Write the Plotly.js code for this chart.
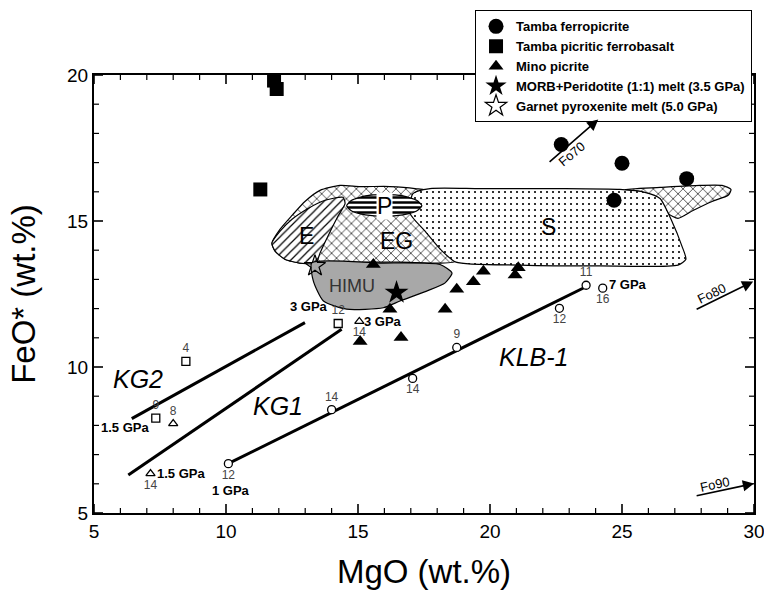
<!DOCTYPE html>
<html><head><meta charset="utf-8">
<script src="https://cdn.plot.ly/plotly-3.0.1.min.js"></script>
<style>html,body{margin:0;padding:0;background:#fff}#chart{width:764px;height:590px}</style>
</head><body><div id="chart"></div>
<script>
// ---- sample data ----
const ferropicriteMgO = [22.7, 25.0, 27.45, 24.7];
const ferropicriteFeO = [17.62, 16.98, 16.45, 15.71];
const ferrobasaltMgO = [11.82, 11.92, 11.3];
const ferrobasaltFeO = [19.81, 19.52, 16.08];
const minoMgO = [15.58, 19.75, 21.07, 20.95, 19.37, 18.74, 18.3, 16.21, 16.63, 15.08];
const minoFeO = [13.51, 13.28, 13.4, 13.15, 12.92, 12.66, 11.98, 11.98, 11.01, 10.87];
const morbMgO = [16.46];
const morbFeO = [12.55];
const gpxMgO = [13.37];
const gpxFeO = [13.46];

// experimental trends
const klbLineMgO = [10.1, 23.75];
const klbLineFeO = [6.7, 12.8];
const kg1LineMgO = [6.3, 14.38];
const kg1LineFeO = [6.3, 11.29];
const kg2LineMgO = [6.43, 12.99];
const kg2LineFeO = [8.23, 11.52];

const klbRunMgO = [10.09, 14.0, 17.07, 18.74, 22.63, 23.64, 24.27];
const klbRunFeO = [6.69, 8.54, 9.61, 10.67, 12.01, 12.8, 12.7];
const klbRunLabel = ['12', '14', '14', '9', '12', '11', '16'];
const klbRunPos = ['bottom center', 'top center', 'bottom center', 'top center', 'bottom center', 'top center', 'bottom center'];

const kgSqMgO = [14.25, 8.48, 7.34];
const kgSqFeO = [11.49, 10.19, 8.25];
const kgSqLabel = ['12', '4', '9'];
const kgSqPos = ['top center', 'top center', 'top center'];

const kgTriMgO = [15.05, 8.0, 7.14];
const kgTriFeO = [11.56, 8.06, 6.35];
const kgTriLabel = ['14', '8', '14'];
const kgTriPos = ['bottom center', 'top center', 'bottom center'];

// pressure labels
const gpaText = ['3 GPa', '1.5 GPa', '1.5 GPa', '1 GPa', '3 GPa', '7 GPa'];
const gpaMgO = [13.13, 6.17, 8.3, 10.2, 15.95, 25.23];
const gpaFeO = [12.06, 7.94, 6.35, 5.78, 11.56, 12.81];

// trend names
const trendText = ['KG2', 'KG1', 'KLB-1'];
const trendMgO = [6.68, 11.98, 21.64];
const trendFeO = [9.59, 8.68, 10.33];

// compositional fields (outlines)
const envMgO = [11.74, 12.05, 12.5, 12.99, 13.56, 14.32, 15.08, 16.21, 17.16, 17.73, 18.11, 18.71, 16.59, 13.56, 12.8, 12.23, 11.86];
const envFeO = [14.24, 14.72, 15.19, 15.67, 16.05, 16.22, 16.18, 16.18, 16.11, 16.01, 14.65, 13.63, 13.59, 13.59, 13.56, 13.69, 13.97];
const tongueMgO = [25.11, 26.44, 27.95, 28.79, 29.13, 29.02, 28.41, 27.69, 27.12, 26.74, 26.36, 25.68];
const tongueFeO = [16.08, 16.15, 16.22, 16.22, 16.08, 15.88, 15.67, 15.36, 15.09, 15.26, 15.77, 16.01];
const sMgO = [17.08, 17.73, 19.62, 22.65, 24.92, 25.87, 26.44, 26.89, 27.27, 27.42, 27.12, 24.17, 21.14, 18.71, 18.11, 17.54, 16.97];
const sFeO = [15.94, 16.11, 16.11, 16.11, 16.08, 15.98, 15.77, 14.99, 14.14, 13.69, 13.49, 13.46, 13.49, 13.59, 14.04, 14.65, 15.26];
const eMgO = [11.74, 12.05, 12.5, 13.11, 13.75, 14.43, 14.51, 14.24, 13.86, 13.56, 13.41, 12.8, 12.23, 11.86];
const eFeO = [14.24, 14.65, 15.06, 15.43, 15.71, 15.81, 15.6, 15.16, 14.48, 13.9, 13.56, 13.56, 13.69, 13.97];
const himuMgO = [13.25, 15.83, 18.11, 18.56, 18.3, 17.6, 16.59, 15.96, 14.57, 13.69, 13.31];
const himuFeO = [13.57, 13.56, 13.51, 13.22, 12.88, 12.6, 12.26, 12.03, 11.98, 12.26, 12.94];
const pMgO = [17.42, 17.22, 16.7, 15.99, 15.28, 14.76, 14.57, 14.76, 15.28, 15.99, 16.7, 17.22];
const pFeO = [15.52, 15.71, 15.86, 15.9, 15.86, 15.71, 15.52, 15.34, 15.21, 15.16, 15.21, 15.34];

const fieldText = ['E', 'EG', 'P', 'S', 'HIMU'];
const fieldMgO = [13.06, 16.47, 15.99, 22.21, 14.76];
const fieldFeO = [14.48, 14.31, 15.53, 14.79, 12.77];

// olivine control arrows
const foText = ['Fo70', 'Fo80', 'Fo90'];
const foTailMgO = [22.2, 27.77, 27.77];
const foTailFeO = [16.98, 11.95, 5.58];
const foTipMgO = [24.1, 29.97, 30.0];
const foTipFeO = [18.48, 12.93, 6.01];
const foLabelMgO = [23.12, 28.4, 28.52];
const foLabelFeO = [17.3, 12.51, 5.99];
const foAngle = [-40, -26, -12];

// axis ticks (major every 5, minor every 1)
const xRange = [5, 30];
const yRange = [5, 20];
const xTickValues = [5, 6, 7, 8, 9, 10, 11, 12, 13, 14, 15, 16, 17, 18, 19, 20, 21, 22, 23, 24, 25, 26, 27, 28, 29, 30];
const yTickValues = [5, 6, 7, 8, 9, 10, 11, 12, 13, 14, 15, 16, 17, 18, 19, 20];

// ---- build ----
const FONT = 'Liberation Sans, Arial, Helvetica, sans-serif';
const W = 764, H = 590, M = {l: 94, r: 10, t: 73, b: 77};
const pxPerX = (W - M.l - M.r) / (xRange[1] - xRange[0]);
const pxPerY = (H - M.t - M.b) / (yRange[1] - yRange[0]);

function field(xs, ys, fill) {
  return Object.assign({
    x: xs.concat([xs[0]]), y: ys.concat([ys[0]]), type: 'scatter', mode: 'lines',
    fill: 'toself', line: {color: '#000', width: 1.2, shape: 'spline', smoothing: 0.6},
    hoverinfo: 'skip', showlegend: false
  }, fill);
}
const traces = [
  field(envMgO, envFeO, {fillcolor: 'white', fillpattern: {shape: 'x', size: 7, solidity: 0.18, fgcolor: '#000', bgcolor: 'white'}}),
  field(tongueMgO, tongueFeO, {fillcolor: 'white', fillpattern: {shape: 'x', size: 7, solidity: 0.18, fgcolor: '#000', bgcolor: 'white'}}),
  field(sMgO, sFeO, {fillcolor: 'white', fillpattern: {shape: '.', size: 6, solidity: 0.1, fgcolor: '#000', bgcolor: 'white'}}),
  field(eMgO, eFeO, {fillcolor: 'white', fillpattern: {shape: '/', size: 6, solidity: 0.2, fgcolor: '#000', bgcolor: 'white'}}),
  field(himuMgO, himuFeO, {fillcolor: '#a8a8a8'}),
  field(pMgO, pFeO, {fillcolor: 'white', fillpattern: {shape: '-', size: 5, solidity: 0.5, fgcolor: '#000', bgcolor: 'white'}}),
];

// tick marks drawn inside the frame on all four sides
function tickTrace(major, lenPx, width) {
  const tx = [], ty = [];
  const lx = lenPx / pxPerY, ly = lenPx / pxPerX;
  xTickValues.filter(v => (v % 5 === 0) === major).forEach(v => {
    tx.push(v, v, null, v, v, null);
    ty.push(yRange[0], yRange[0] + lx, null, yRange[1], yRange[1] - lx, null);
  });
  yTickValues.filter(v => (v % 5 === 0) === major).forEach(v => {
    tx.push(xRange[0], xRange[0] + ly, null, xRange[1], xRange[1] - ly, null);
    ty.push(v, v, null, v, v, null);
  });
  return {x: tx, y: ty, type: 'scatter', mode: 'lines', line: {color: '#000', width: width},
    connectgaps: false, showlegend: false, hoverinfo: 'skip', cliponaxis: false};
}
traces.push(tickTrace(true, 9, 1.6), tickTrace(false, 5, 1.2));

function line(xs, ys) {
  return {x: xs, y: ys, type: 'scatter', mode: 'lines', line: {color: '#000', width: 3}, showlegend: false, hoverinfo: 'skip'};
}
traces.push(line(klbLineMgO, klbLineFeO), line(kg1LineMgO, kg1LineFeO), line(kg2LineMgO, kg2LineFeO));
function runs(xs, ys, labels, pos, sym) {
  return {x: xs, y: ys, text: labels, textposition: pos, type: 'scatter', mode: 'markers+text',
    marker: {symbol: sym, size: 8, color: 'white', line: {color: '#000', width: 1.3}},
    textfont: {family: FONT, size: 12, color: '#444'}, showlegend: false, hoverinfo: 'skip', cliponaxis: false};
}
traces.push(runs(klbRunMgO, klbRunFeO, klbRunLabel, klbRunPos, 'circle'));
traces.push(runs(kgSqMgO, kgSqFeO, kgSqLabel, kgSqPos, 'square'));
traces.push(runs(kgTriMgO, kgTriFeO, kgTriLabel, kgTriPos, 'triangle-up'));

function pts(name, xs, ys, sym, size, color, lw) {
  return {x: xs, y: ys, name: '<b>' + name + '</b>', type: 'scatter', mode: 'markers',
    marker: {symbol: sym, size: size, color: color, line: {color: '#000', width: lw}}, cliponaxis: false};
}
traces.push(pts('Tamba ferropicrite', ferropicriteMgO, ferropicriteFeO, 'circle', 15, '#000', 0));
traces.push(pts('Tamba picritic ferrobasalt', ferrobasaltMgO, ferrobasaltFeO, 'square', 14, '#000', 0));
traces.push(pts('Mino picrite', minoMgO, minoFeO, 'triangle-up', 13, '#000', 0));
traces.push(pts('MORB+Peridotite (1:1) melt (3.5 GPa)', morbMgO, morbFeO, 'star', 18, '#000', 0));
traces.push(pts('Garnet pyroxenite melt (5.0 GPa)', gpxMgO, gpxFeO, 'star-open', 16, '#000', 1.2));

const annotations = [];
gpaText.forEach((t, i) => annotations.push({x: gpaMgO[i], y: gpaFeO[i], xref: 'x', yref: 'y', text: '<b>' + t + '</b>', showarrow: false, font: {family: FONT, size: 13, color: '#000'}}));
trendText.forEach((t, i) => annotations.push({x: trendMgO[i], y: trendFeO[i], xref: 'x', yref: 'y', text: '<i>' + t + '</i>', showarrow: false, font: {family: FONT, size: 25, color: '#000'}}));
fieldText.forEach((t, i) => annotations.push({x: fieldMgO[i], y: fieldFeO[i], xref: 'x', yref: 'y', text: t, showarrow: false,
  bgcolor: t === 'P' ? 'white' : 'rgba(0,0,0,0)', borderpad: 0,
  font: {family: FONT, size: t === 'HIMU' ? 18 : 23, color: t === 'HIMU' ? '#333' : '#000'}}));
foText.forEach((t, i) => {
  annotations.push({x: foTipMgO[i], y: foTipFeO[i], ax: foTailMgO[i], ay: foTailFeO[i], xref: 'x', yref: 'y', axref: 'x', ayref: 'y',
    text: '', showarrow: true, arrowhead: 2, arrowsize: 1.4, arrowwidth: 1.6, arrowcolor: '#000'});
  annotations.push({x: foLabelMgO[i], y: foLabelFeO[i], xref: 'x', yref: 'y', text: t, showarrow: false, textangle: foAngle[i],
    font: {family: FONT, size: 13, color: '#000'}});
});

function axis(extra) {
  return Object.assign({
    showgrid: false, zeroline: false, showline: true, linecolor: '#000', linewidth: 2, mirror: true,
    ticks: '', dtick: 5, tick0: 5, ticklabeloverflow: 'allow',
    tickfont: {family: FONT, size: 19, color: '#000'}
  }, extra);
}
const layout = {
  width: W, height: H,
  margin: M,
  paper_bgcolor: 'white', plot_bgcolor: 'white',
  font: {family: FONT, color: '#000'},
  xaxis: axis({range: xRange, title: {text: 'MgO (wt.%)', font: {family: FONT, size: 33}, standoff: 22}}),
  yaxis: axis({range: yRange, title: {text: 'FeO* (wt.%)', font: {family: FONT, size: 33}, standoff: 22}}),
  showlegend: true,
  legend: {x: 0.577, y: 1.148, xanchor: 'left', yanchor: 'top', bgcolor: 'white', bordercolor: '#000', borderwidth: 1.2,
    font: {family: FONT, size: 13, color: '#000'}, tracegroupgap: 0, itemwidth: 30},
  annotations: annotations
};
Plotly.newPlot('chart', traces, layout, {staticPlot: true, displayModeBar: false});
</script></body></html>
